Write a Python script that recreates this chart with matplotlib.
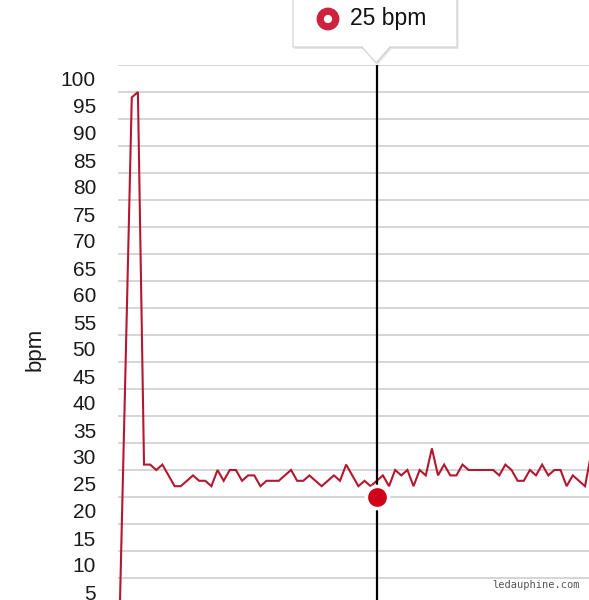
import matplotlib.pyplot as plt
import matplotlib.patches as mpatches
import matplotlib.transforms as mtransforms
import numpy as np

plt.rcParams['font.family'] = ['Liberation Sans', 'DejaVu Sans']

# heart rate readings, one per sample
bpm = [2, 50, 99, 100, 31, 31, 30, 31, 29, 27,
       27, 28, 29, 28, 28, 27, 30, 28, 30, 30,
       28, 29, 29, 27, 28, 28, 28, 29, 30, 28,
       28, 29, 28, 27, 28, 29, 28, 31, 29, 27,
       28, 27, 28, 29, 27, 30, 29, 30, 27, 30,
       29, 34, 29, 31, 29, 29, 31, 30, 30, 30,
       30, 30, 29, 31, 30, 28, 28, 30, 29, 31,
       29, 30, 30, 27, 29, 28, 27, 33]
grid_vals = list(range(5, 106, 5))
label_vals = list(range(5, 101, 5))
cursor_idx = 42
cursor_val = 25
tooltip_text = '25 bpm'
y_title = 'bpm'
watermark = 'ledauphine.com'

RED_LINE = '#b3182f'
RED_DOT = '#d0021b'
RED_RING = '#cc2240'


def main():
	fig = plt.figure(figsize=(5.89, 6.0), dpi=100)
	fig.patch.set_facecolor('white')

	# data axes, bottom goes past the figure edge like the cropped screenshot
	ax = fig.add_axes([118 / 589, 1 - 632 / 600, 1 - 118 / 589, 567 / 600])
	x = np.arange(len(bpm))
	ax.plot(x, bpm, color=RED_LINE, lw=1.5, zorder=3, solid_joinstyle='miter')
	ax.set_xlim(-0.25, 76.65)
	ax.set_ylim(0, 105)
	ax.set_yticks(grid_vals)
	ax.set_yticklabels([])
	ax.set_xticks([])
	ax.tick_params(axis='y', length=0)
	ax.grid(axis='y', color='#d2d2d2', lw=1.3)
	for s in ax.spines.values():
		s.set_visible(False)
	ax.set_facecolor('white')

	# labels sit just above their gridline, like the app does it
	base = mtransforms.blended_transform_factory(ax.transAxes, ax.transData)
	tr = base + mtransforms.ScaledTranslation(-22 / 100, 5.5 / 100, fig.dpi_scale_trans)
	for v in label_vals:
		ax.text(0, v, str(v), transform=tr, ha='right', va='baseline',
			fontsize=15, color='#1a1a1a', clip_on=False)

	ax.axvline(cursor_idx, color='black', lw=1.6, zorder=4)
	ax.plot([cursor_idx], [cursor_val], 'o', ms=16, color=RED_DOT,
		mec='white', mew=2.5, zorder=5, clip_on=False)

	fig.text(35 / 589, 1 - 349 / 600, y_title, rotation=90, ha='center',
		va='center', fontsize=16, color='#1a1a1a')
	fig.text(580 / 589, 1 - 585 / 600, watermark, ha='right', va='center',
		fontsize=7.5, color='#555555', family='DejaVu Sans Mono')

	# overlay in pixel coordinates for the tooltip
	ov = fig.add_axes([0, 0, 1, 1], zorder=10)
	ov.set_xlim(0, 589)
	ov.set_ylim(600, 0)
	ov.axis('off')
	pts = [(293, -5), (293, 47), (362, 47), (376, 63), (390, 47), (457, 47), (457, -5)]
	shadow = mpatches.Polygon([(px + 1.5, py + 2) for px, py in pts], closed=True,
		fc='#e4e4e4', ec='none')
	ov.add_patch(shadow)
	box = mpatches.Polygon(pts, closed=True, fc='white', ec='#cfcfcf', lw=0.8)
	ov.add_patch(box)
	ring = mpatches.Circle((328, 19), radius=7.8, fc='white', ec=RED_RING, lw=5.2)
	ov.add_patch(ring)
	ov.text(350, 19, tooltip_text, ha='left', va='center', fontsize=16.5, color='#111111')

	fig.savefig('out.png', dpi=100)


if __name__ == "__main__":
	main()
